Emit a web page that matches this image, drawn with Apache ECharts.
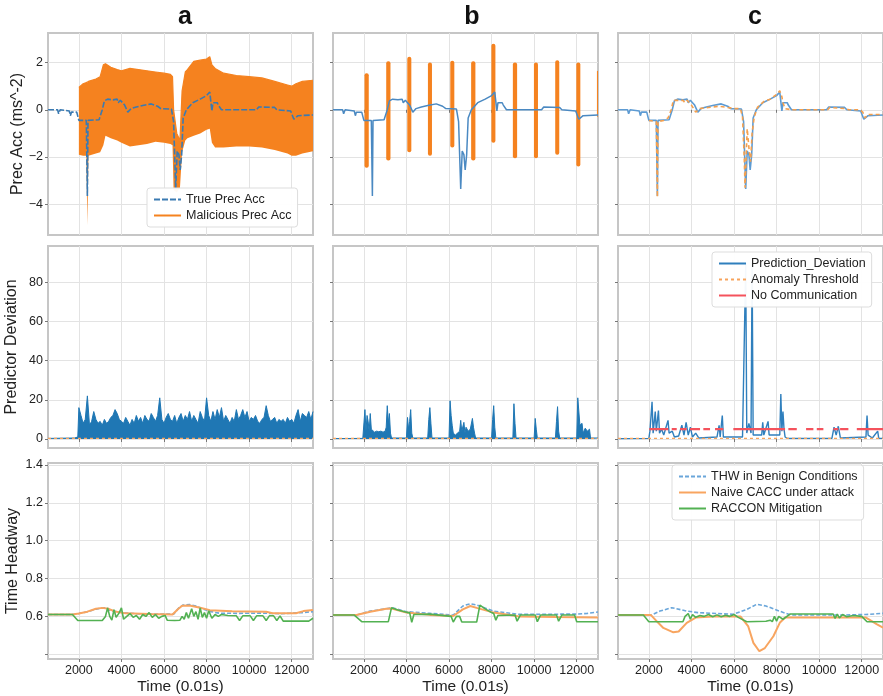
<!DOCTYPE html>
<html lang="en">
<head>
    <meta charset="UTF-8">
    <title>RACCON attack / mitigation</title>
    <script src="https://cdn.jsdelivr.net/npm/echarts@6/dist/echarts.min.js"></script>
    <style>
        html, body { margin: 0; background: #fff; }
        #chart { width: 883px; height: 696px; }
    </style>
</head>
<body>
<div id="chart"></div>
<script>
    // ---- data ----
    const xTicks = [2000, 4000, 6000, 8000, 10000, 12000];
    const accTicks = [-4, -2, 0, 2];
    const devTicks = [0, 20, 40, 60, 80];
    const thwTicks = [0.4, 0.6, 0.8, 1.0, 1.2, 1.4];
    const thwLabels = [0.6, 0.8, 1.0, 1.2, 1.4];

    // true preceding vehicle acceleration [time, value]
    const trueAcc = [
        [550, 0], [1000, 0], [1050, -0.17], [1120, 0], [1550, -0.05], [1600, -0.25], [1650, -0.1],
        [1900, -0.1], [2000, -0.45], [2350, -0.45], [2400, -3.65], [2430, -0.45], [2950, -0.42],
        [3100, 0.0], [3200, 0.38], [3350, 0.45], [3600, 0.42], [3800, 0.45], [3850, 0.3], [3950, 0.4],
        [4050, 0.3], [4150, 0.2], [4300, -0.1], [4450, 0.05], [4700, 0.12], [5000, 0.18], [5400, 0.25],
        [5700, 0.15], [5850, 0.05], [6350, 0.03], [6450, -0.5], [6550, -3.35], [6620, -1.75],
        [6700, -1.9], [6760, -2.55], [6830, -1.9], [6900, -0.35], [7050, 0.0], [7350, 0.3],
        [7700, 0.45], [8000, 0.6], [8150, 0.75], [8200, 0.7], [8250, -0.05], [8300, 0.3], [8500, 0.3],
        [8550, 0.2], [8700, 0.0], [10350, 0.0], [10450, 0.12], [11200, 0.1], [11300, 0.0],
        [11950, -0.05], [12100, -0.4], [12300, -0.25], [13000, -0.22]
    ];

    // column a: malicious acc band [time, low, high]
    const maliciousBandA = [
        [2000, -1.9, 0.95], [2200, -1.95, 1.1], [2350, -1.95, 1.15], [2400, -4.9, 1.15],
        [2450, -1.95, 1.2], [2800, -1.85, 1.3], [3000, -1.8, 1.4], [3150, -1.5, 1.9],
        [3250, -1.1, 1.95], [3500, -1.2, 1.8], [3800, -1.3, 1.7], [4000, -1.4, 1.65],
        [4400, -1.55, 1.75], [4800, -1.5, 1.7], [5200, -1.45, 1.65], [5600, -1.35, 1.6],
        [6000, -1.4, 1.55], [6300, -1.45, 1.5], [6400, -1.5, 1.4], [6450, -3.4, 0.0],
        [6600, -3.5, -1.0], [6750, -3.3, -1.3], [6850, -1.8, 0.8], [7000, -1.3, 1.6],
        [7100, -1.2, 1.7], [7400, -1.1, 2.05], [7700, -1.0, 2.1], [8000, -0.85, 2.15],
        [8150, -0.8, 2.25], [8250, -1.4, 1.9], [8400, -1.6, 1.75], [8800, -1.6, 1.55],
        [9400, -1.55, 1.45], [10000, -1.55, 1.4], [10600, -1.6, 1.35], [11200, -1.7, 1.2],
        [11800, -1.85, 1.05], [12000, -1.95, 1.0], [12200, -1.95, 1.1], [12500, -1.85, 1.2],
        [13000, -1.75, 1.25]
    ];

    // column b: intermittent attack bursts [start, end, low, high]
    const burstsB = [
        [2030, 2230, -2.45, 1.55], [3050, 3250, -2.15, 2.05], [4040, 4230, -1.8, 2.25],
        [5010, 5200, -1.95, 2.0], [6060, 6250, -1.6, 2.08], [7040, 7240, -2.15, 2.05],
        [7990, 8180, -1.4, 2.8], [9000, 9200, -2.05, 2.0], [9990, 10180, -2.05, 2.0],
        [10990, 11180, -1.9, 2.1], [11980, 12170, -2.4, 2.0], [12950, 13000, -0.3, 1.65]
    ];

    // column c: acceleration used under mitigation [time, value]
    const estAccC = [
        [2000, -0.45], [2050, -0.5], [2350, -0.5], [2400, -3.7], [2430, -0.5], [2700, -0.45],
        [2900, -0.35], [3050, 0.0], [3150, 0.4], [3600, 0.4], [3700, 0.3], [3800, 0.4], [3850, 0.35],
        [4000, 0.2], [4200, -0.1], [4400, 0.05], [4800, 0.1], [5300, 0.15], [5700, 0.1], [6000, 0.05],
        [6300, 0.05], [6400, -0.3], [6480, -2.0], [6520, -3.3], [6560, -2.3], [6620, -0.8],
        [6700, -1.6], [6780, -2.2], [6850, -1.0], [6950, -0.3], [7100, 0.1], [7400, 0.35],
        [7700, 0.45], [8000, 0.65], [8150, 0.8], [8250, 0.55], [8300, 0.3], [8400, 0.05],
        [8700, 0.0], [10400, 0.0], [10500, 0.1], [11200, 0.05], [11400, 0.0], [11900, 0.0],
        [12050, -0.1], [12150, -0.35], [12300, -0.2], [13000, -0.2]
    ];

    // predictor deviation, column a: samples every 100 from 2000
    const devAStart = 2000, devAStep = 100;
    const devA = [
        16, 12, 8, 10, 22, 7, 9, 14, 10, 8,
        9, 7, 10, 8, 9, 11, 12, 15, 13, 10,
        9, 8, 11, 9, 7, 10, 8, 12, 9, 11,
        8, 12, 10, 9, 13, 11, 9, 12, 21, 10,
        8, 11, 13, 10, 9, 12, 8, 11, 13, 9,
        12, 10, 14, 9, 12, 10, 8, 14, 11, 9,
        21, 12, 9, 14, 10, 15, 11, 16, 9, 12,
        10, 8, 11, 9, 15, 10, 12, 15, 11, 14,
        9, 11, 10, 12, 9, 8, 10, 11, 17, 12,
        9, 10, 11, 8, 10, 9, 10, 8, 11, 9,
        10, 8, 12, 15, 9, 13, 12, 11, 14, 10,
        14
    ];
    const devAPre = [[550, 0.3], [1800, 0.5], [1950, 1]];

    const devB = [
        [550, 0.2], [1950, 0.3], [2050, 15], [2100, 4], [2150, 12], [2200, 9], [2250, 4], [2300, 13],
        [2350, 5], [2400, 4], [2500, 3.5], [2600, 4], [2700, 3.7], [2800, 4], [2900, 3.5], [3000, 4],
        [3050, 6], [3100, 17], [3150, 8], [3200, 13], [3250, 3], [3300, 0.5],
        [4000, 0.5], [4050, 11], [4100, 5], [4150, 9], [4200, 15], [4250, 3], [4300, 0.5],
        [5000, 0.5], [5050, 10], [5100, 16], [5150, 8], [5200, 0.5],
        [6000, 0.5], [6050, 19.5], [6100, 12], [6150, 7], [6200, 3], [6300, 2], [6400, 3], [6500, 4],
        [6550, 9.5], [6600, 4], [6700, 8.5], [6750, 3], [6800, 6], [6900, 4], [7000, 5], [7100, 10.5],
        [7150, 6], [7200, 3], [7250, 0.5],
        [8000, 0.5], [8050, 10], [8100, 17], [8150, 6], [8200, 0.5],
        [9000, 0.5], [9050, 18], [9100, 8], [9150, 0.5],
        [10000, 0.5], [10050, 10.5], [10100, 5], [10150, 0.5],
        [11000, 0.5], [11050, 9], [11100, 16.5], [11150, 4], [11200, 0.5],
        [12000, 0.5], [12050, 21], [12150, 7], [12250, 8], [12300, 3], [12400, 5.5], [12500, 4],
        [12600, 5], [12650, 0.5], [13000, 0.5]
    ];

    const devC = [
        [550, 0.2], [2000, 0.3], [2050, 4], [2150, 19], [2200, 3], [2300, 14], [2350, 4], [2450, 14.5],
        [2500, 3], [2600, 5], [2700, 2], [2900, 9.5], [2950, 3], [3100, 4], [3200, 1], [3400, 1.5],
        [3550, 7], [3650, 2], [3750, 8.5], [3850, 2], [3950, 6], [4050, 1], [4200, 3], [4350, 0.5],
        [5200, 1], [5300, 7], [5350, 1], [5450, 12], [5500, 1], [6400, 1], [6550, 90], [6600, 3],
        [6700, 8], [6800, 3], [6850, 90], [6900, 2], [7300, 2], [7350, 8.5], [7400, 2], [7600, 9],
        [7650, 2], [8150, 2], [8200, 23], [8250, 4], [8300, 14], [8350, 5], [8400, 1], [8500, 0.3],
        [10600, 0.3], [10700, 6], [10800, 2], [10900, 6.5], [11000, 0.5], [12200, 1], [12250, 12],
        [12300, 2], [12500, 0.5], [12750, 4], [12800, 0.3], [13000, 0.3]
    ];

    const thresholdLevel = 0.3;
    const noCommLevel = 5;
    const noCommSegments = [
        [2021, 2914], [3074, 3309], [3464, 3779], [3934, 4404], [4559, 4874], [5109, 5499],
        [5969, 8399], [8554, 8949], [9386, 9729], [9889, 10199], [10669, 10904], [10984, 11374],
        [11769, 13000]
    ];

    // time headway
    const benignA = [[550, 0.61], [1700, 0.61], [2000, 0.615], [2400, 0.625], [2800, 0.638], [3100, 0.645],
        [3300, 0.645], [3500, 0.63], [3800, 0.625], [4200, 0.618], [5000, 0.612], [6000, 0.612], [6450, 0.612],
        [6700, 0.645], [6900, 0.66], [7200, 0.662], [7500, 0.655], [7800, 0.64], [8200, 0.625], [8600, 0.617],
        [9500, 0.616], [10500, 0.617], [11000, 0.616], [11500, 0.614], [12500, 0.62], [13000, 0.625]];
    const naiveA = [[550, 0.61], [1700, 0.61], [2000, 0.615], [2400, 0.625], [2800, 0.64], [3100, 0.645],
        [3400, 0.64], [3700, 0.626], [4200, 0.616], [5300, 0.612], [6400, 0.61], [6650, 0.638], [6850, 0.656],
        [7200, 0.658], [7700, 0.646], [8150, 0.633], [9200, 0.627], [10800, 0.625], [11100, 0.617],
        [12200, 0.617], [12550, 0.628], [13000, 0.634]];
    const racconA = [[550, 0.61], [1700, 0.61], [1950, 0.578], [3100, 0.578], [3250, 0.6], [3350, 0.645],
        [3450, 0.6], [3550, 0.58], [3650, 0.635], [3750, 0.595], [3900, 0.62], [4000, 0.645], [4100, 0.585],
        [4250, 0.6], [4400, 0.615], [4550, 0.595], [4700, 0.605], [4850, 0.585], [5000, 0.61], [5150, 0.6],
        [5300, 0.62], [5450, 0.595], [5600, 0.61], [5750, 0.59], [5900, 0.6], [6050, 0.605], [6150, 0.58],
        [6500, 0.578], [6750, 0.58], [6850, 0.6], [6950, 0.585], [7050, 0.62], [7150, 0.59], [7300, 0.64],
        [7400, 0.6], [7500, 0.625], [7600, 0.585], [7700, 0.645], [7800, 0.595], [7900, 0.62], [8000, 0.59],
        [8100, 0.63], [8250, 0.59], [8400, 0.61], [8550, 0.6], [8700, 0.61], [9000, 0.605], [9400, 0.603],
        [9550, 0.578], [9700, 0.603], [10050, 0.603], [10200, 0.578], [10350, 0.603], [10650, 0.603],
        [10800, 0.578], [10950, 0.603], [11150, 0.603], [11300, 0.578], [11450, 0.603], [11600, 0.575],
        [12800, 0.575], [13000, 0.59]];

    const benignB = [[550, 0.607], [1650, 0.607], [2300, 0.628], [3050, 0.64], [3300, 0.646], [4000, 0.625],
        [5100, 0.616], [6200, 0.607], [6650, 0.655], [7000, 0.667], [7300, 0.66], [8100, 0.628], [9300, 0.611],
        [12000, 0.612], [12500, 0.616], [13000, 0.623]];
    const naiveB = [[550, 0.607], [1650, 0.607], [2300, 0.625], [3050, 0.64], [3300, 0.642], [4000, 0.62],
        [5100, 0.608], [6200, 0.602], [6650, 0.637], [7000, 0.655], [7300, 0.645], [8100, 0.62], [9300, 0.6],
        [11000, 0.597], [13000, 0.594]];
    const racconB = [[550, 0.607], [1550, 0.607], [1900, 0.572], [3150, 0.572], [3300, 0.646], [3600, 0.634],
        [4050, 0.62], [4150, 0.62], [4250, 0.569], [4350, 0.61], [5100, 0.612], [6100, 0.6], [6200, 0.57],
        [6350, 0.6], [6500, 0.6], [6600, 0.57], [7300, 0.57], [7450, 0.66], [7700, 0.64], [8000, 0.62],
        [8100, 0.615], [8200, 0.58], [8300, 0.605], [9100, 0.607], [9200, 0.575], [9350, 0.607],
        [10050, 0.607], [10150, 0.572], [10300, 0.607], [11050, 0.607], [11150, 0.575], [11300, 0.607],
        [11900, 0.607], [12000, 0.572], [13000, 0.572]];

    const benignC = [[550, 0.607], [2130, 0.607], [2520, 0.628], [3070, 0.646], [3780, 0.628], [4300, 0.62],
        [5970, 0.611], [6600, 0.637], [7070, 0.664], [7500, 0.655], [8320, 0.62], [8700, 0.607],
        [11000, 0.607], [12200, 0.61], [13000, 0.616]];
    const naiveC = [[550, 0.607], [2100, 0.607], [2440, 0.566], [2680, 0.539], [3150, 0.516], [3400, 0.52],
        [3780, 0.566], [4200, 0.594], [5000, 0.6], [6300, 0.6], [6670, 0.547], [6910, 0.46], [7190, 0.416],
        [7450, 0.433], [7850, 0.495], [8150, 0.566], [8400, 0.594], [12200, 0.594], [12700, 0.559],
        [13000, 0.54]];
    const racconC = [[550, 0.607], [1740, 0.607], [2000, 0.572], [3600, 0.572], [3700, 0.6], [3780, 0.59],
        [3850, 0.615], [3950, 0.585], [4050, 0.61], [4200, 0.595], [4400, 0.605], [4600, 0.6], [4800, 0.61],
        [5000, 0.598], [5200, 0.608], [5400, 0.598], [5600, 0.606], [5800, 0.6], [6000, 0.61], [6200, 0.595],
        [6600, 0.572], [7500, 0.574], [7700, 0.58], [7800, 0.572], [7900, 0.6], [8000, 0.575], [8100, 0.6],
        [8300, 0.585], [8650, 0.613], [10650, 0.613], [10750, 0.59], [10850, 0.612], [10950, 0.592],
        [11100, 0.61], [11300, 0.598], [11600, 0.605], [12000, 0.6], [12250, 0.572], [13000, 0.572]];

    // ---- layout / style ----
    const FONT = '"Liberation Sans", Arial, Helvetica, sans-serif';
    const colLeft = [48, 333, 618];
    const rowTop = [33, 246, 463];
    const rowHeight = [202, 202, 197];
    const panelWidth = 265;

    const BLUE = '#1f77b4', ACC_ORANGE = '#f5821f', RED = '#f4525c';

    const minusFmt = v => (v < 0 ? '\u2212' + (-v) : String(v));
    const rowAxis = [
        {min: -5.3, max: 3.25, ticks: accTicks, labels: accTicks, fmt: minusFmt, name: 'Prec Acc (ms^-2)', gap: 22},
        {min: -4.6, max: 98.5, ticks: devTicks, labels: devTicks, fmt: minusFmt, name: 'Predictor Deviation', gap: 28},
        {min: 0.375, max: 1.41, ticks: thwTicks, labels: thwLabels, fmt: v => v.toFixed(1), name: 'Time Headway', gap: 27}
    ];

    const grids = [], xAxes = [], yAxes = [];
    for (let r = 0; r < 3; r++) {
        for (let c = 0; c < 3; c++) {
            const i = r * 3 + c;
            grids.push({
                left: colLeft[c], top: rowTop[r], width: panelWidth, height: rowHeight[r],
                show: true, borderColor: '#c6c6c6', borderWidth: 2, backgroundColor: '#fff'
            });
            xAxes.push({
                type: 'value', gridIndex: i, min: 550, max: 13000,
                axisLine: {show: false},
                axisTick: {show: true, customValues: xTicks, length: 3, lineStyle: {color: '#777'}},
                axisLabel: {
                    show: r === 2, customValues: xTicks, formatter: v => String(v),
                    color: '#222', fontSize: 12.5, fontFamily: FONT, margin: 5
                },
                splitLine: {show: true, lineStyle: {color: '#e3e3e3', width: 1}},
                name: r === 2 ? 'Time (0.01s)' : '', nameLocation: 'middle', nameGap: 20,
                nameTextStyle: {color: '#222', fontSize: 15.5, fontFamily: FONT}
            });
            const ax = rowAxis[r];
            yAxes.push({
                type: 'value', gridIndex: i, min: ax.min, max: ax.max,
                axisLine: {show: false},
                axisTick: {show: true, customValues: ax.ticks, length: 3, lineStyle: {color: '#777'}},
                axisLabel: {
                    show: c === 0, customValues: ax.labels, formatter: ax.fmt,
                    color: '#222', fontSize: 12.5, fontFamily: FONT, margin: 5
                },
                splitLine: {show: true, lineStyle: {color: '#e3e3e3', width: 1}},
                name: c === 0 ? ax.name : '', nameLocation: 'middle', nameGap: ax.gap, nameRotate: 90,
                nameMoveOverlap: false,
                nameTextStyle: {color: '#222', fontSize: 16, fontFamily: FONT}
            });
        }
    }

    function line(name, idx, data, color, width, dash, extra) {
        return Object.assign({
            type: 'line', name: name, xAxisIndex: idx, yAxisIndex: idx, data: data,
            symbol: 'none', animation: false, silent: true,
            itemStyle: {color: color},
            lineStyle: {color: color, width: width, type: dash || 'solid'}
        }, extra || {});
    }

    const devASeries = devAPre.concat(devA.map((v, k) => [devAStart + k * devAStep, v]));
    const noCommData = [];
    noCommSegments.forEach(s => { noCommData.push([s[0], noCommLevel], [s[1], noCommLevel], [s[1], null]); });
    const thresholdData = [[550, thresholdLevel], [13000, thresholdLevel]];

    const series = [
        // row 1, col a: oscillating malicious signal drawn as its filled envelope
        {
            type: 'custom', name: 'malicious band a', xAxisIndex: 0, yAxisIndex: 0, animation: false,
            clip: true, silent: true, data: maliciousBandA, encode: {x: 0, y: [1, 2]},
            renderItem: function (params, api) {
                if (params.dataIndex !== 0) return null;
                const upper = maliciousBandA.map(d => api.coord([d[0], d[2]]));
                const lower = maliciousBandA.map(d => api.coord([d[0], d[1]])).reverse();
                return {type: 'polygon', shape: {points: upper.concat(lower)}, style: {fill: ACC_ORANGE}};
            }
        },
        line('Malicious Prec Acc', 0, maliciousBandA.map(d => [d[0], d[2]]), ACC_ORANGE, 1.2),
        line('True Prec Acc', 0, trueAcc, '#3a7ab2', 1.6, [6, 2]),
        // row 1, col b
        {
            type: 'custom', name: 'bursts b', xAxisIndex: 1, yAxisIndex: 1, data: burstsB, animation: false,
            clip: true, silent: true, encode: {x: [0, 1], y: [2, 3]},
            renderItem: function (params, api) {
                const p0 = api.coord([api.value(0), api.value(3)]);
                const p1 = api.coord([api.value(1), api.value(2)]);
                return {
                    type: 'rect',
                    shape: {x: p0[0], y: p0[1], width: p1[0] - p0[0], height: p1[1] - p0[1], r: 2},
                    style: {fill: ACC_ORANGE}
                };
            }
        },
        line('true b', 1, trueAcc, '#4a89c2', 1.5),
        // row 1, col c
        line('true c', 2, trueAcc, '#5d9bd3', 1.6),
        line('est c', 2, estAccC, '#f5a04e', 1.6, [4, 3]),
        // row 2
        line('dev a', 3, devASeries, BLUE, 1, null, {areaStyle: {color: BLUE, opacity: 1}}),
        line('thr a', 3, thresholdData, '#f7a35c', 1.3, [3, 3]),
        line('dev b', 4, devB, BLUE, 1, null, {areaStyle: {color: BLUE, opacity: 1}}),
        line('thr b', 4, thresholdData, '#f7a35c', 1.3, [3, 3]),
        line('Prediction_Deviation', 5, devC, '#2f7fbd', 1.4),
        line('Anomaly Threshold', 5, thresholdData, '#f7a35c', 1.4, [3, 3]),
        line('No Communication', 5, noCommData, RED, 2.2, null, {connectNulls: false}),
        // row 3
        line('THW in Benign Conditions', 6, benignA, '#6aa6da', 1.6, [4, 2]),
        line('Naive CACC under attack', 6, naiveA, '#f8a560', 2),
        line('RACCON Mitigation', 6, racconA, '#52b152', 1.6),
        line('benign b', 7, benignB, '#6aa6da', 1.6, [4, 2]),
        line('naive b', 7, naiveB, '#f8a560', 2),
        line('raccon b', 7, racconB, '#52b152', 1.6),
        line('benign c', 8, benignC, '#6aa6da', 1.6, [4, 2]),
        line('naive c', 8, naiveC, '#f8a560', 2),
        line('raccon c', 8, racconC, '#52b152', 1.6)
    ];

    const legendBase = {
        orient: 'vertical', backgroundColor: 'rgba(255,255,255,0.95)', borderColor: '#dddddd', borderWidth: 1,
        borderRadius: 3, padding: [5, 6], itemGap: 3, itemWidth: 27, itemHeight: 14, selectedMode: false,
        itemStyle: {opacity: 0},
        textStyle: {color: '#222', fontSize: 12.5, fontFamily: FONT}
    };
    const legends = [
        Object.assign({}, legendBase, {left: 147, top: 188, data: ['True Prec Acc', 'Malicious Prec Acc']}),
        Object.assign({}, legendBase, {left: 712, top: 252, data: ['Prediction_Deviation', 'Anomaly Threshold', 'No Communication']}),
        Object.assign({}, legendBase, {left: 672, top: 465, data: ['THW in Benign Conditions', 'Naive CACC under attack', 'RACCON Mitigation']})
    ];

    const panelTitles = [['a', 185], ['b', 472], ['c', 755]];
    const graphics = panelTitles.map(t => ({
        type: 'text', x: t[1], y: 17,
        style: {text: t[0], fill: '#111', font: 'bold 25px ' + FONT, textAlign: 'center', textVerticalAlign: 'middle'}
    }));

    const chart = echarts.init(document.getElementById('chart'), null, {renderer: 'canvas'});
    chart.setOption({
        animation: false,
        backgroundColor: '#fff',
        grid: grids,
        xAxis: xAxes,
        yAxis: yAxes,
        legend: legends,
        graphic: graphics,
        series: series
    });
</script>
</body>
</html>
